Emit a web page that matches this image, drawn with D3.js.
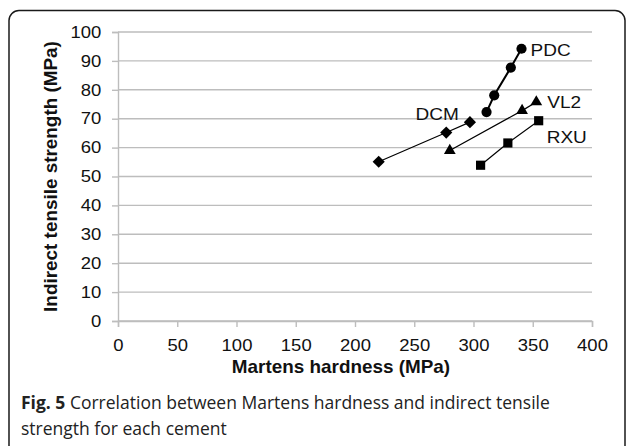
<!DOCTYPE html>
<html><head><meta charset="utf-8">
<script src="https://cdn.jsdelivr.net/npm/d3@7"></script>
<style>
html,body{margin:0;padding:0;background:#fff;}
svg{display:block;}
</style></head>
<body>
<script>
// ---- data ----
const seriesNames = ["DCM", "VL2", "RXU", "PDC"];
const dcmX = [220, 277, 297];
const dcmY = [55.1, 65.2, 68.8];
const vl2X = [280, 341, 353];
const vl2Y = [59.0, 72.8, 75.8];
const rxuX = [306, 329, 355];
const rxuY = [53.9, 61.6, 69.3];
const pdcX = [311, 317.5, 331.5, 340.5];
const pdcY = [72.3, 78.1, 87.7, 94.2];
const xTicks = [0, 50, 100, 150, 200, 250, 300, 350, 400];
const yTicks = [0, 10, 20, 30, 40, 50, 60, 70, 80, 90, 100];
const xTitle = "Martens hardness (MPa)";
const yTitle = "Indirect tensile strength (MPa)";
const captionBold = "Fig. 5";
const captionLine1 = " Correlation between Martens hardness and indirect tensile";
const captionLine2 = "strength for each cement";

const W = 627, H = 446;
const svg = d3.select("body").append("svg").attr("width", W).attr("height", H);

// frame
svg.append("rect").attr("x", 9).attr("y", 10.5).attr("width", 616).attr("height", 470)
  .attr("rx", 10).attr("fill", "none").attr("stroke", "#1a1a1a").attr("stroke-width", 1.5);

const x = d3.scaleLinear().domain([0, 400]).range([118, 592]);
const y = d3.scaleLinear().domain([0, 100]).range([321, 32]);

const font = "'Liberation Sans', Arial, sans-serif";
const gridColor = "#bdbdbd";
const sx = 1.12;

// gridlines
svg.append("g").selectAll("line").data(yTicks).join("line")
  .attr("x1", x(0)).attr("x2", x(400))
  .attr("y1", d => y(d)).attr("y2", d => y(d))
  .attr("stroke", gridColor).attr("stroke-width", 1.4);

// y axis
const yAxis = svg.append("g").attr("transform", `translate(${x(0)},0)`)
  .call(d3.axisLeft(y).tickValues(yTicks).tickSize(6).tickPadding(9));
yAxis.select(".domain").attr("stroke", gridColor).attr("stroke-width", 1.4);
yAxis.selectAll(".tick line").attr("stroke", gridColor).attr("stroke-width", 1.4);
yAxis.selectAll(".tick text").attr("font-family", font).attr("font-size", 16.5).attr("fill", "#111")
  .attr("transform", `scale(${sx},1)`);

// x axis
const xAxis = svg.append("g").attr("transform", `translate(0,${y(0)})`)
  .call(d3.axisBottom(x).tickValues(xTicks).tickSize(6).tickPadding(12));
xAxis.select(".domain").attr("stroke", gridColor).attr("stroke-width", 1.4);
xAxis.selectAll(".tick line").attr("stroke", gridColor).attr("stroke-width", 1.4);
xAxis.selectAll(".tick text").attr("font-family", font).attr("font-size", 16.5).attr("fill", "#111")
  .attr("transform", `scale(${sx},1)`);

// titles
svg.append("text").attr("transform", `translate(${(x(0) + x(400)) / 2 - 14},373) scale(1.08,1)`)
  .attr("text-anchor", "middle").attr("font-family", font).attr("font-weight", "bold")
  .attr("font-size", 17.5).attr("fill", "#111").text(xTitle);
svg.append("text").attr("transform", `translate(57,${(y(0) + y(100)) / 2}) rotate(-90) scale(1.08,1)`)
  .attr("text-anchor", "middle").attr("font-family", font).attr("font-weight", "bold")
  .attr("font-size", 17.5).attr("fill", "#111").text(yTitle);

// series
const series = [
  {name: "DCM", xs: dcmX, ys: dcmY, sym: "diamond", lw: 1.2, dx: -11, dy: -2, anchor: "end"},
  {name: "VL2", xs: vl2X, ys: vl2Y, sym: "triangle", lw: 1.2, dx: 11, dy: 6, anchor: "start"},
  {name: "RXU", xs: rxuX, ys: rxuY, sym: "square", lw: 1.2, dx: 8, dy: 22, anchor: "start"},
  {name: "PDC", xs: pdcX, ys: pdcY, sym: "circle", lw: 2, dx: 9, dy: 7, anchor: "start"}
];
const symMap = {
  diamond: d3.symbol().type(d3.symbolSquare).size(74),
  triangle: d3.symbol().type(d3.symbolTriangle).size(60),
  square: d3.symbol().type(d3.symbolSquare).size(84),
  circle: d3.symbol().type(d3.symbolCircle).size(82)
};
const line = d3.line().x(d => x(d[0])).y(d => y(d[1]));
series.forEach(s => {
  const pts = s.xs.map((v, i) => [v, s.ys[i]]);
  const g = svg.append("g");
  g.append("path").attr("d", line(pts)).attr("fill", "none").attr("stroke", "#000").attr("stroke-width", s.lw);
  g.selectAll("path.m").data(pts).join("path").attr("class", "m")
    .attr("d", symMap[s.sym])
    .attr("transform", d => `translate(${x(d[0])},${y(d[1])})${s.sym === "diamond" ? " rotate(45)" : ""}`)
    .attr("fill", "#000");
  const last = pts[pts.length - 1];
  g.append("text")
    .attr("transform", `translate(${x(last[0]) + s.dx},${y(last[1]) + s.dy}) scale(${sx},1)`)
    .attr("text-anchor", s.anchor).attr("font-family", font).attr("font-size", 17).attr("fill", "#111")
    .text(s.name);
});

// caption
const capFont = "'Open Sans', 'Noto Sans', sans-serif";
const cap = svg.append("text").attr("x", 21).attr("y", 409).attr("font-family", capFont)
  .attr("font-size", 17.5).attr("fill", "#222");
cap.append("tspan").attr("font-weight", "bold").text(captionBold);
cap.append("tspan").text(captionLine1);
svg.append("text").attr("x", 21).attr("y", 435).attr("font-family", capFont)
  .attr("font-size", 17.5).attr("fill", "#222").text(captionLine2);
</script>
</body></html>
